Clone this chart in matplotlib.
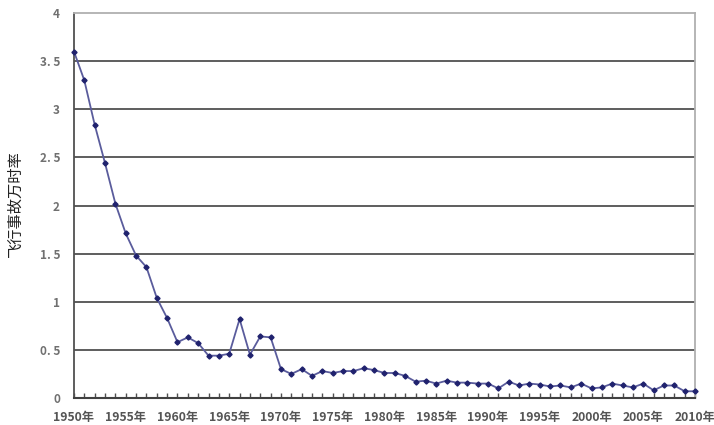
import matplotlib
matplotlib.use("Agg")
import matplotlib.pyplot as plt

plt.rcParams['font.family'] = ['Noto Sans CJK SC', 'DejaVu Sans']

# 每年的飞行事故万时率 (1950-2010)
years = list(range(1950, 2011))
rates = [3.60, 3.30, 2.84, 2.44, 2.02, 1.71, 1.48, 1.36, 1.04, 0.83,
         0.58, 0.63, 0.57, 0.44, 0.44, 0.46, 0.82, 0.45, 0.64, 0.63,
         0.30, 0.25, 0.30, 0.23, 0.28, 0.26, 0.28, 0.28, 0.31, 0.29,
         0.26, 0.26, 0.23, 0.17, 0.18, 0.15, 0.18, 0.16, 0.16, 0.15,
         0.15, 0.10, 0.17, 0.13, 0.15, 0.14, 0.12, 0.13, 0.11, 0.15,
         0.10, 0.11, 0.15, 0.13, 0.11, 0.15, 0.08, 0.13, 0.13, 0.07,
         0.07]
label_years = list(range(1950, 2011, 5))
y_ticks = [0, 0.5, 1, 1.5, 2, 2.5, 3, 3.5, 4]
y_tick_labels = ['0', '0. 5', '1', '1. 5', '2', '2. 5', '3', '3. 5', '4']

fig = plt.figure(figsize=(7.14, 4.25), dpi=100)
ax = fig.add_axes([0.1036, 0.0635, 0.8698, 0.9059])

# 横向网格线
for y in y_ticks[1:-1]:
    ax.axhline(y, color='#505050', lw=1.3, zorder=1)

ax.plot(years, rates, color='#5a5c9c', lw=1.3, marker='D', markersize=2.6,
        markerfacecolor='#20226e', markeredgecolor='#20226e', zorder=3,
        clip_on=False)

ax.set_xlim(1950, 2010)
ax.set_ylim(0, 4)
ax.set_xticks(years, minor=True)
ax.set_xticks(label_years)
ax.set_xticklabels([f'{y}年' for y in label_years], fontsize=8.8,
                   color='#555555', fontweight='bold')
ax.set_yticks(y_ticks)
ax.set_yticklabels(y_tick_labels, fontsize=8.5, color='#707070', fontweight='bold')
ax.tick_params(axis='x', which='both', direction='in', length=3.5, width=1,
               color='#505050', pad=9)
ax.tick_params(axis='y', length=0, pad=10)

ax.spines['left'].set_color('#505050')
ax.spines['left'].set_linewidth(1.3)
ax.spines['bottom'].set_color('#404040')
ax.spines['bottom'].set_linewidth(1.5)
ax.spines['top'].set_color('#b0b0b0')
ax.spines['right'].set_color('#b0b0b0')
ax.spines['top'].set_linewidth(1.3)
ax.spines['right'].set_linewidth(1.3)

fig.text(0.022, 0.52, '飞行事故万时率', rotation=90, fontsize=11,
         ha='center', va='center', color='#222222')

fig.savefig('out.png', dpi=100)
